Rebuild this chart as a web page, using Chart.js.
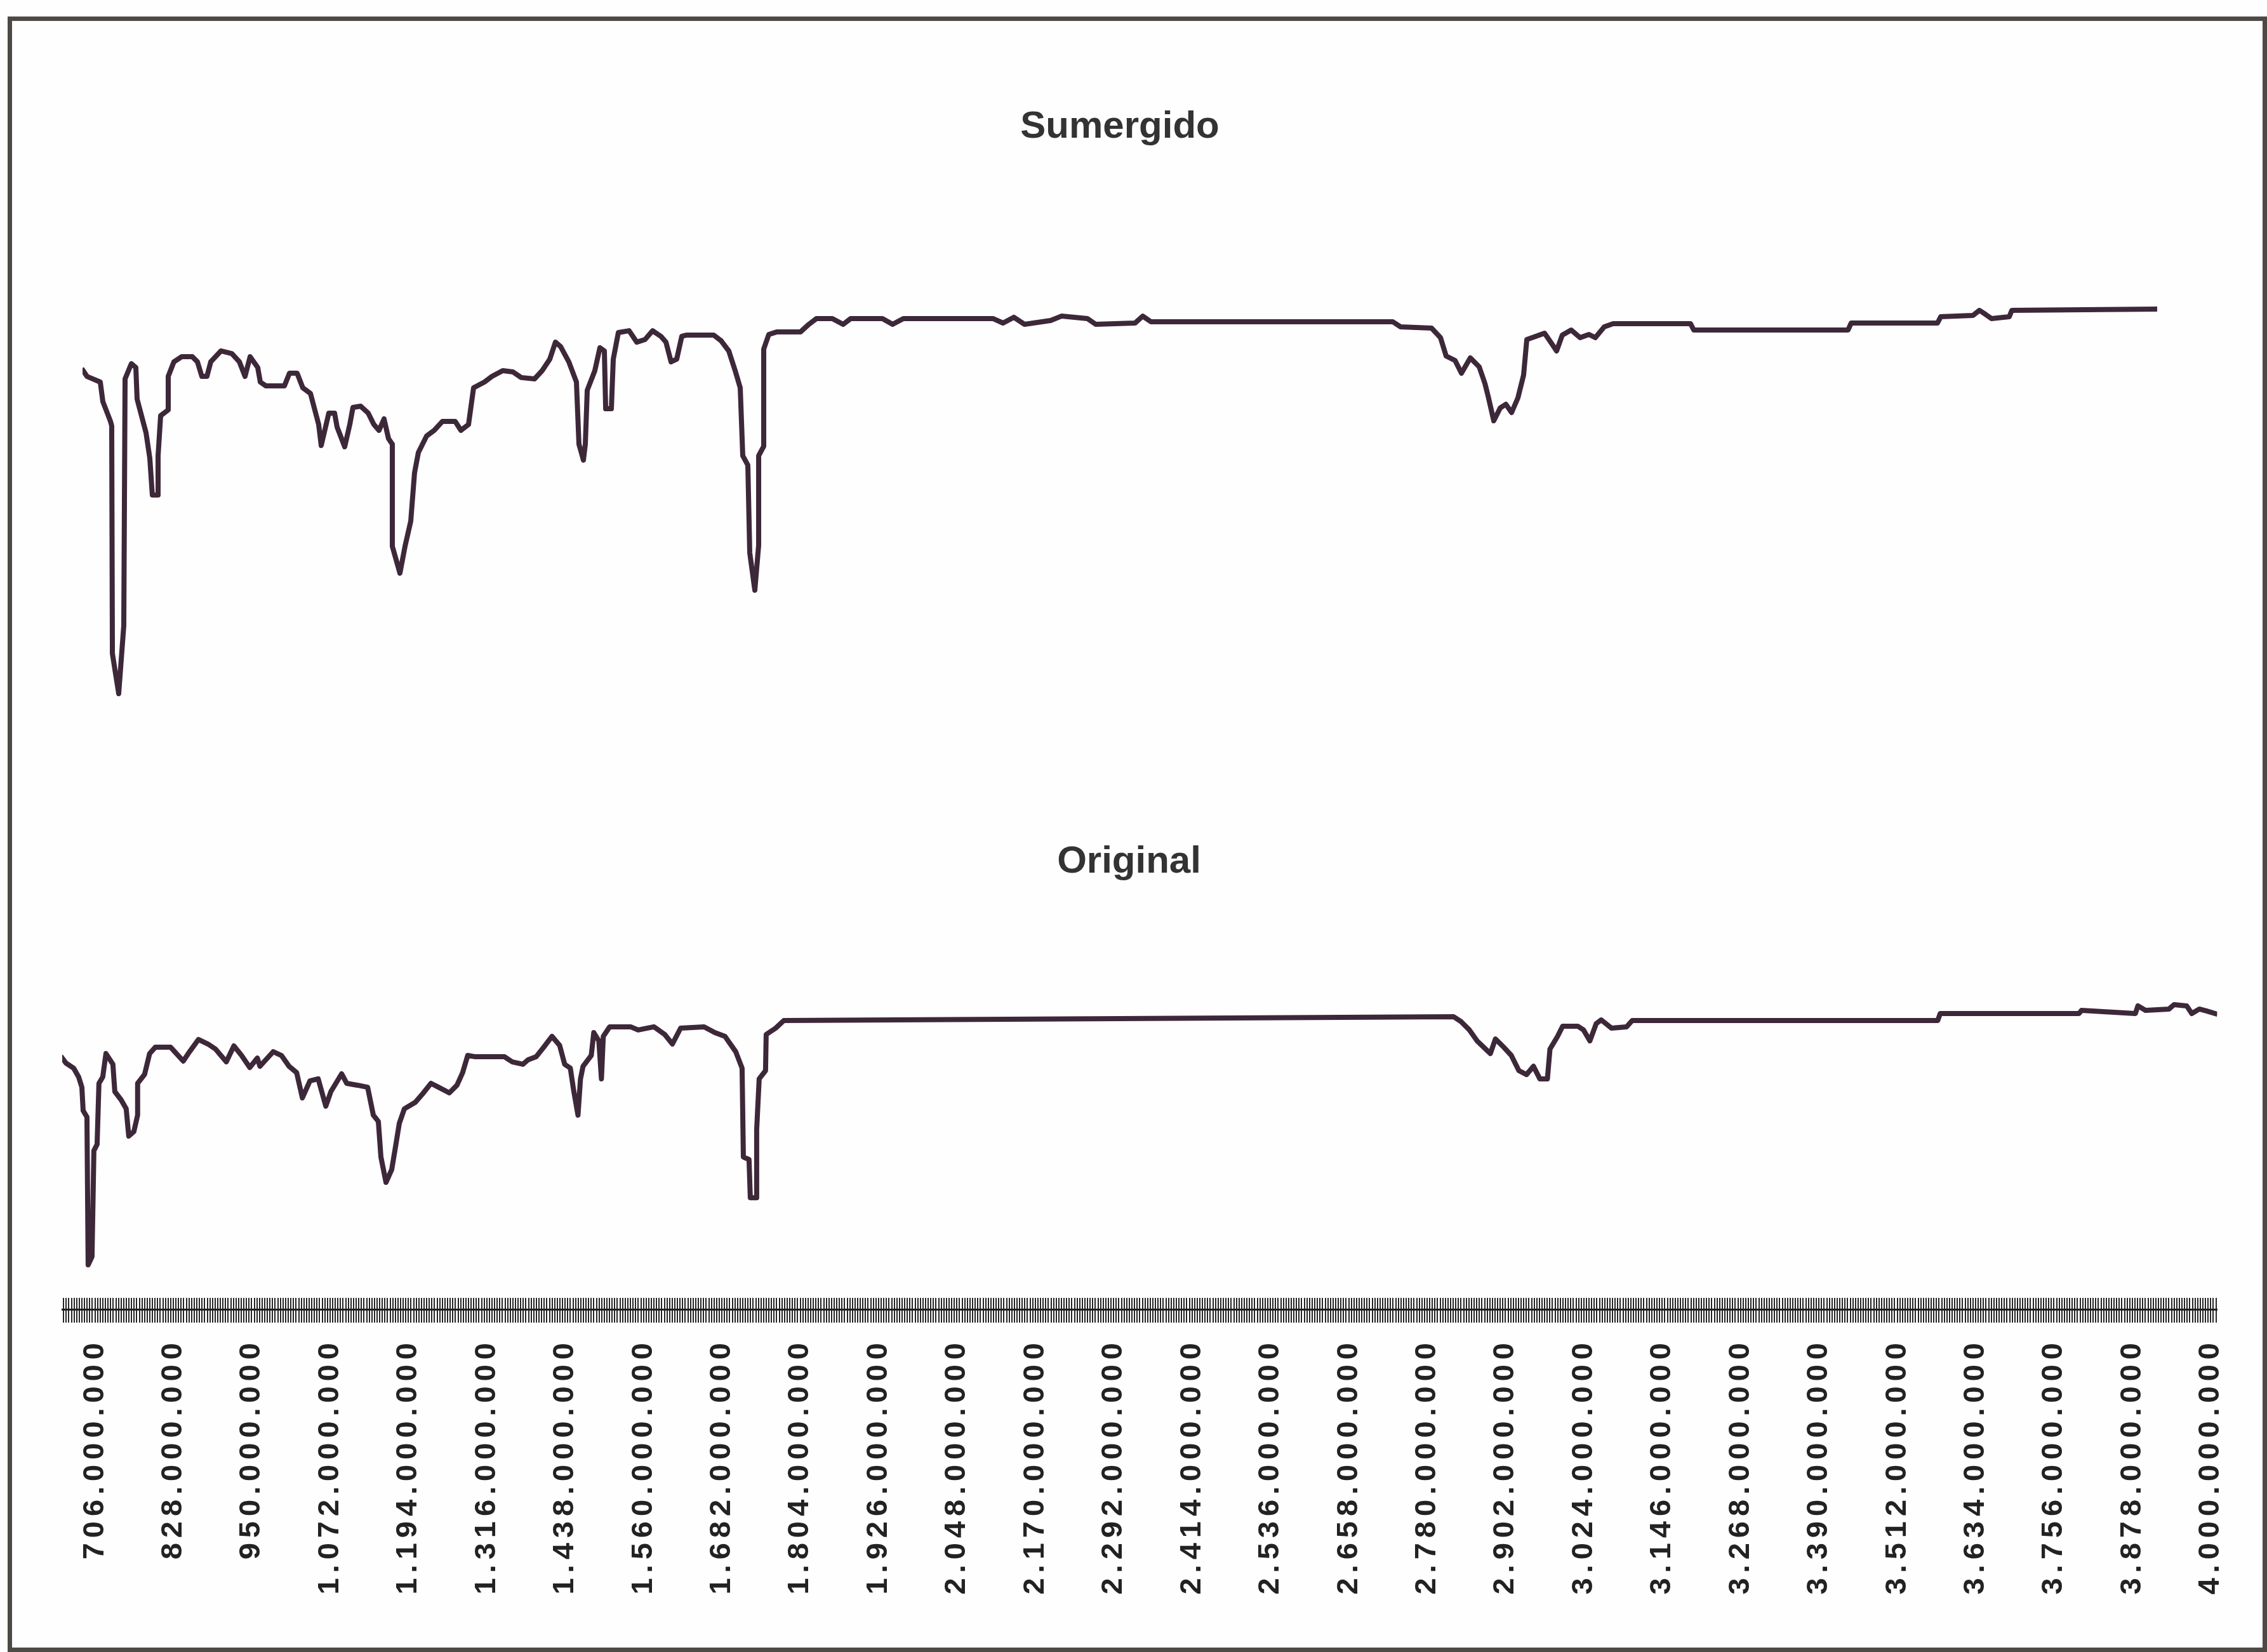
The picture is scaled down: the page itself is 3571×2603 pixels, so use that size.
<!DOCTYPE html>
<html>
<head>
<meta charset="utf-8">
<title>Sumergido / Original</title>
<script src="https://cdn.jsdelivr.net/npm/chart.js@4.4.1/dist/chart.umd.min.js"></script>
<style>
  html, body { margin: 0; padding: 0; background: #fefefe; }
  #page { position: relative; width: 3571px; height: 2603px; overflow: hidden; background: #fefefe; }
  #frame { position: absolute; left: 12px; top: 26px; width: 3559px; height: 2577px;
           box-sizing: border-box; border: 7px solid #4d4a46; }
  #topBox { position: absolute; left: 0; top: 0; width: 3571px; height: 1150px; }
  #bottomBox { position: absolute; left: 0; top: 1150px; width: 3571px; height: 1453px; }
</style>
</head>
<body>
<div id="page">
  <div id="frame"></div>
  <div id="topBox"><canvas id="topChart"></canvas></div>
  <div id="bottomBox"><canvas id="bottomChart"></canvas></div>
</div>
<script>
// Sweep frequencies in MHz, levels in dB.
const sumergidoFreq = [
  656.0, 662.2, 683.7, 687.9, 700.2, 702.2, 703.3, 713.5, 721.7, 723.8,
  734.0, 741.2, 743.3, 757.7, 763.8, 767.9, 777.2, 777.2, 781.3, 793.6,
  793.6, 802.8, 815.2, 832.6, 840.8, 848.0, 856.2, 862.4, 878.8, 896.3,
  908.6, 917.8, 926.0, 938.3, 942.5, 951.7, 981.5, 989.7, 1002.0, 1011.2,
  1023.6, 1036.9, 1041.0, 1053.3, 1062.6, 1066.7, 1079.0, 1087.2, 1092.3, 1104.7,
  1117.0, 1126.2, 1134.4, 1142.6, 1149.8, 1156.0, 1156.0, 1168.3, 1176.5, 1185.8,
  1191.9, 1198.1, 1211.4, 1223.8, 1237.1, 1257.6, 1266.9, 1279.2, 1287.4, 1304.9,
  1317.2, 1334.6, 1351.0, 1364.4, 1386.0, 1398.3, 1410.6, 1419.8, 1428.0, 1441.4,
  1453.7, 1457.8, 1465.0, 1468.1, 1471.2, 1483.5, 1491.7, 1498.9, 1501.0, 1510.2,
  1513.3, 1521.5, 1538.9, 1551.2, 1564.6, 1576.9, 1590.3, 1598.5, 1606.7, 1615.9,
  1624.1, 1632.3, 1675.5, 1687.8, 1700.1, 1710.4, 1718.6, 1722.7, 1730.9, 1734.0,
  1742.2, 1748.4, 1748.4, 1756.6, 1756.6, 1764.8, 1778.1, 1816.1, 1829.5, 1841.8,
  1867.5, 1884.9, 1897.2, 1948.5, 1965.0, 1982.4, 2127.2, 2143.6, 2161.0, 2178.5,
  2220.6, 2238.1, 2280.1, 2293.5, 2357.1, 2369.5, 2382.8, 2773.9, 2786.3, 2836.6,
  2851.0, 2860.2, 2874.6, 2884.9, 2899.2, 2913.6, 2922.8, 2928.0, 2937.2, 2947.5,
  2956.7, 2966.0, 2976.2, 2985.4, 2990.6, 3005.0, 3019.3, 3028.5, 3038.8, 3048.0,
  3062.4, 3076.8, 3091.1, 3101.4, 3115.8, 3130.2, 3255.4, 3260.6, 3510.1, 3515.2,
  3654.8, 3660.0, 3712.3, 3722.6, 3731.8, 3742.1, 3770.8, 3775.0, 4010.0
];
const sumergidoLevel = [
  -5.64, -6.04, -6.43, -7.79, -9.15, -9.46, -25.22, -27.99, -23.29, -6.21,
  -5.16, -5.42, -7.62, -9.94, -11.70, -14.25, -14.25, -11.53, -8.76, -8.36,
  -6.04, -5.03, -4.68, -4.68, -5.03, -6.04, -6.04, -5.03, -4.28, -4.46,
  -5.03, -6.04, -4.68, -5.42, -6.43, -6.70, -6.70, -5.82, -5.82, -6.83,
  -7.22, -9.37, -10.82, -8.58, -8.58, -9.55, -10.91, -9.37, -8.19, -8.10,
  -8.58, -9.37, -9.77, -8.98, -10.34, -10.73, -17.80, -19.65, -17.80, -16.05,
  -12.71, -11.31, -10.16, -9.77, -9.15, -9.15, -9.77, -9.37, -6.83, -6.43,
  -6.04, -5.64, -5.73, -6.12, -6.21, -5.64, -4.85, -3.67, -3.97, -5.03,
  -6.43, -10.73, -11.83, -10.73, -7.00, -5.64, -4.06, -4.28, -8.28, -8.28,
  -4.85, -3.01, -2.88, -3.67, -3.49, -2.88, -3.27, -3.67, -5.03, -4.85,
  -3.27, -3.18, -3.18, -3.58, -4.28, -5.64, -6.83, -11.53, -12.18, -18.24,
  -20.83, -17.72, -11.53, -10.87, -4.15, -3.14, -2.96, -2.96, -2.44, -2.04,
  -2.04, -2.44, -2.04, -2.04, -2.44, -2.04, -2.04, -2.35, -1.95, -2.44,
  -2.17, -1.87, -2.04, -2.44, -2.35, -1.87, -2.26, -2.26, -2.61, -2.70,
  -3.36, -4.63, -4.94, -5.82, -4.76, -5.38, -6.52, -7.40, -9.11, -8.23,
  -7.97, -8.54, -7.53, -5.95, -3.49, -3.27, -3.05, -3.62, -4.28, -3.18,
  -2.83, -3.36, -3.14, -3.36, -2.61, -2.39, -2.39, -2.83, -2.83, -2.35,
  -2.35, -1.91, -1.82, -1.47, -1.73, -2.04, -1.91, -1.47, -1.38
];

const originalFreq = [
  655.0, 660.9, 672.8, 680.6, 685.6, 687.6, 693.5, 695.4, 701.4, 704.3,
  709.3, 712.2, 718.1, 723.1, 733.9, 736.9, 746.7, 754.6, 758.6, 766.5,
  772.4, 772.4, 783.2, 791.1, 800.0, 823.7, 843.4, 853.3, 867.1, 881.9,
  893.7, 910.5, 922.3, 934.2, 947.0, 958.8, 962.8, 983.5, 996.3, 1008.2,
  1020.0, 1028.9, 1040.7, 1053.5, 1065.4, 1073.3, 1090.0, 1097.9, 1114.7, 1130.5,
  1139.4, 1147.2, 1151.2, 1159.1, 1168.0, 1173.9, 1179.8, 1187.7, 1204.5, 1217.3,
  1229.1, 1240.9, 1257.7, 1269.6, 1278.4, 1286.3, 1298.2, 1343.6, 1355.4, 1372.2,
  1380.1, 1392.9, 1404.7, 1417.5, 1429.4, 1437.3, 1446.1, 1451.1, 1458.0, 1461.9,
  1465.9, 1478.7, 1482.6, 1490.5, 1494.5, 1497.4, 1507.3, 1539.9, 1551.7, 1576.4,
  1593.1, 1605.0, 1617.8, 1654.3, 1671.1, 1686.9, 1703.6, 1713.5, 1715.5, 1724.3,
  1726.3, 1736.2, 1736.2, 1740.1, 1750.0, 1751.0, 1765.8, 1778.6, 2821.3, 2833.1,
  2845.9, 2857.8, 2878.5, 2886.4, 2899.3, 2911.1, 2922.9, 2934.8, 2945.6, 2955.5,
  2967.3, 2971.3, 2983.1, 2991.0, 3014.7, 3023.6, 3033.4, 3043.3, 3051.1, 3066.9,
  3090.6, 3099.5, 3575.0, 3578.9, 3794.9, 3798.9, 3882.7, 3886.7, 3898.5, 3935.0,
  3942.9, 3962.6, 3970.5, 3982.3, 3994.2, 4006.9
];
const originalLevel = [
  -4.22, -4.57, -4.92, -5.53, -6.24, -7.86, -8.30, -18.53, -17.96, -10.63,
  -10.19, -5.97, -5.53, -3.91, -4.65, -6.54, -7.11, -7.73, -9.62, -9.31,
  -8.17, -5.97, -5.36, -3.91, -3.47, -3.47, -4.43, -3.78, -2.94, -3.25,
  -3.60, -4.48, -3.38, -4.04, -4.87, -4.22, -4.79, -3.78, -4.04, -4.79,
  -5.23, -6.98, -5.80, -5.66, -7.55, -6.54, -5.31, -5.97, -6.10, -6.24,
  -8.17, -8.61, -11.07, -12.82, -11.94, -10.36, -8.74, -7.73, -7.29, -6.63,
  -5.97, -6.24, -6.63, -6.10, -5.23, -4.04, -4.13, -4.13, -4.48, -4.65,
  -4.35, -4.13, -3.47, -2.72, -3.34, -4.65, -4.92, -6.41, -8.17, -5.66,
  -4.79, -4.04, -2.46, -3.03, -5.66, -2.72, -2.06, -2.06, -2.28, -2.06,
  -2.59, -3.25, -2.15, -2.06, -2.46, -2.72, -3.78, -4.92, -11.07, -11.24,
  -13.88, -13.88, -9.18, -5.66, -5.09, -2.59, -2.15, -1.62, -1.36, -1.71,
  -2.28, -3.03, -3.91, -2.90, -3.47, -4.04, -5.09, -5.36, -4.79, -5.66,
  -5.66, -3.60, -2.72, -2.02, -2.02, -2.28, -3.03, -1.84, -1.58, -2.15,
  -2.06, -1.62, -1.62, -1.14, -1.14, -0.92, -1.14, -0.61, -0.92, -0.83,
  -0.53, -0.61, -1.14, -0.83, -0.97, -1.14
];

// Labelled frequencies on the shared axis (MHz) and their printed text (Hz).
const tickFreqs = [
  706, 828, 950, 1072, 1194, 1316, 1438, 1560, 1682, 1804, 1926, 2048, 2170, 2292,
  2414, 2536, 2658, 2780, 2902, 3024, 3146, 3268, 3390, 3512, 3634, 3756, 3878, 4000
];
const tickLabels = [
  '706.000.000', '828.000.000', '950.000.000', '1.072.000.000', '1.194.000.000',
  '1.316.000.000', '1.438.000.000', '1.560.000.000', '1.682.000.000', '1.804.000.000',
  '1.926.000.000', '2.048.000.000', '2.170.000.000', '2.292.000.000', '2.414.000.000',
  '2.536.000.000', '2.658.000.000', '2.780.000.000', '2.902.000.000', '3.024.000.000',
  '3.146.000.000', '3.268.000.000', '3.390.000.000', '3.512.000.000', '3.634.000.000',
  '3.756.000.000', '3.878.000.000', '4.000.000.000'
];

const FREQ_MIN = 655;
const FREQ_MAX = 4010;
const MINOR_DIVISIONS = 30;
const LINE_COLOR = '#3d2839';
const TICK_COLOR = '#262626';
const FONT = "'Liberation Sans', Arial, Helvetica, sans-serif";

Chart.defaults.font.family = FONT;
Chart.defaults.animation = false;

// Dense ruler of small tick marks, with the labelled frequencies among them.
function buildRulerTicks() {
  const values = [];
  const firstStep = (tickFreqs[1] - tickFreqs[0]) / MINOR_DIVISIONS;
  for (let v = tickFreqs[0] - firstStep; v >= FREQ_MIN; v -= firstStep) values.unshift(v);
  for (let i = 0; i < tickFreqs.length - 1; i++) {
    const step = (tickFreqs[i + 1] - tickFreqs[i]) / MINOR_DIVISIONS;
    for (let j = 0; j < MINOR_DIVISIONS; j++) values.push(tickFreqs[i] + j * step);
  }
  const last = tickFreqs[tickFreqs.length - 1];
  for (let v = last; v <= FREQ_MAX; v += firstStep) values.push(v);
  return values.map(value => ({ value }));
}

function labelFor(value) {
  const i = tickFreqs.findIndex(f => Math.abs(f - value) < 1e-6);
  return i >= 0 ? tickLabels[i] : '';
}

function toPoints(xs, ys) {
  return xs.map((x, i) => ({ x, y: ys[i] }));
}

function lineDataset(label, xs, ys) {
  return {
    label,
    data: toPoints(xs, ys),
    borderColor: LINE_COLOR,
    backgroundColor: LINE_COLOR,
    borderWidth: 8,
    pointRadius: 0,
    tension: 0,
    fill: false,
    borderJoinStyle: 'round',
    borderCapStyle: 'square'
  };
}

function titleOptions(text, padTop, padBottom) {
  return {
    display: true,
    text,
    color: '#333333',
    font: { family: FONT, size: 60, weight: 'bold', lineHeight: 1.2 },
    padding: { top: padTop, bottom: padBottom }
  };
}

// Upper trace: Sumergido
new Chart(document.getElementById('topChart'), {
  type: 'line',
  data: { datasets: [lineDataset('Sumergido', sumergidoFreq, sumergidoLevel)] },
  options: {
    responsive: true,
    maintainAspectRatio: false,
    devicePixelRatio: 1,
    layout: { padding: { top: 0, left: 130, right: 173, bottom: 34 } },
    scales: {
      x: { type: 'linear', min: FREQ_MIN, max: FREQ_MAX, display: false },
      y: { type: 'linear', min: -29, max: 0, display: false }
    },
    plugins: {
      title: titleOptions('Sumergido', 164, 219.5),
      legend: { display: false },
      tooltip: { enabled: false }
    }
  }
});

// Spaced-out lettering for the frequency labels of the ruler.
const spacedLabels = {
  id: 'spacedLabels',
  afterDatasetsDraw(chart) {
    chart.ctx.save();
    chart.ctx.letterSpacing = '8px';
  },
  afterDraw(chart) {
    chart.ctx.restore();
  }
};

// Level (dB) where the upper half of the ruler ticks begins.
const RULER_TOP_LEVEL = -20.81;

// Lower trace: Original, with the shared frequency ruler
new Chart(document.getElementById('bottomChart'), {
  type: 'line',
  data: { datasets: [lineDataset('Original', originalFreq, originalLevel)] },
  options: {
    responsive: true,
    maintainAspectRatio: false,
    devicePixelRatio: 1,
    layout: { padding: { top: 0, left: 58, right: 72, bottom: 40 } },
    scales: {
      x: {
        type: 'linear',
        position: 'bottom',
        min: FREQ_MIN,
        max: FREQ_MAX,
        afterBuildTicks: scale => { scale.ticks = buildRulerTicks(); },
        afterFit: scale => { scale.height = 500; },
        border: { display: true, color: '#1e1e1e', width: 3 },
        grid: { drawOnChartArea: false, drawTicks: true, tickLength: 21, color: TICK_COLOR, lineWidth: 2 },
        ticks: {
          autoSkip: false,
          minRotation: 90,
          maxRotation: 90,
          padding: 24,
          z: 1,
          color: '#222222',
          font: { family: FONT, size: 47, weight: 'bold' },
          callback: value => labelFor(value)
        }
      },
      xRuler: {
        type: 'linear',
        axis: 'x',
        position: { y: RULER_TOP_LEVEL },
        min: FREQ_MIN,
        max: FREQ_MAX,
        afterBuildTicks: scale => { scale.ticks = buildRulerTicks(); },
        border: { display: false },
        grid: { drawOnChartArea: false, drawTicks: true, tickLength: 18, color: TICK_COLOR, lineWidth: 2 },
        ticks: { display: false, autoSkip: false }
      },
      y: {
        type: 'linear',
        min: -21.6,
        max: 0,
        display: true,
        afterFit: scale => { scale.width = 40; },
        border: { display: false },
        grid: { display: false },
        ticks: { display: false }
      }
    },
    plugins: {
      title: titleOptions('Original', 172, 177),
      legend: { display: false },
      tooltip: { enabled: false }
    }
  },
  plugins: [spacedLabels]
});
</script>
</body>
</html>
